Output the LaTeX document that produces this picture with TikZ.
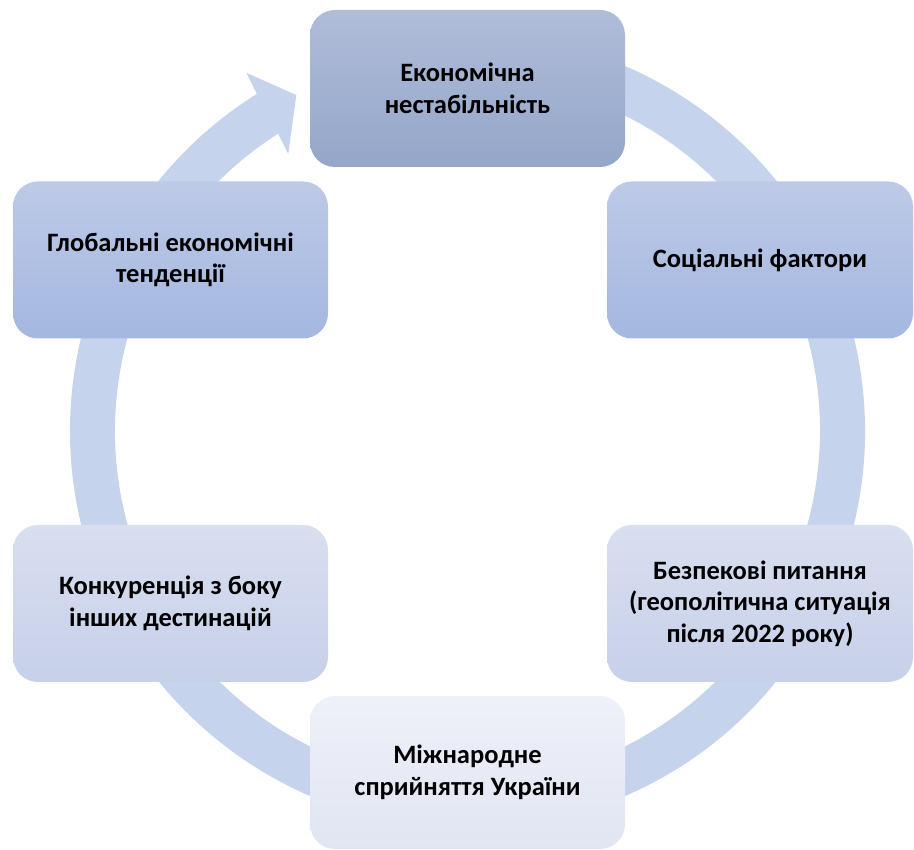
\documentclass[tikz,border=0pt]{standalone}
\usepackage{fontspec}
\setmainfont{Carlito}
\definecolor{ringc}{HTML}{C5D3EC}
\definecolor{topA}{HTML}{B0BDD9}
\definecolor{topB}{HTML}{94A6C9}
\definecolor{ruA}{HTML}{BDCAE7}
\definecolor{ruB}{HTML}{A4B7E0}
\definecolor{rlA}{HTML}{D9DFEF}
\definecolor{rlB}{HTML}{C7D0EA}
\definecolor{btA}{HTML}{EEF1F9}
\definecolor{btB}{HTML}{E1E5F2}
\begin{document}
\begin{tikzpicture}[x=1pt,y=1pt,
  cbox/.style={rounded corners=25pt, minimum width=315pt, minimum height=157pt,
    align=center, inner sep=0pt, font=\fontsize{26.5}{31.5}\selectfont\bfseries, text=black}]
\useasboundingbox (0,0) rectangle (914,850);
\coordinate (C) at (467.5,419);
% ring with arrow head
\begin{scope}[shift={(C)}]
\fill[ringc] (100:397.5pt) arc[start angle=100, end angle=-238, radius=397.5pt]
  -- (-238.3:421pt) -- (-243:377pt) -- (-237.1:330pt) -- (-237.5:352.5pt)
  arc[start angle=-237.5, end angle=100, radius=352.5pt] -- cycle;
\end{scope}
% boxes
\node[cbox, top color=topA, bottom color=topB] (eco) at (467.5,761.5) {Економічна\\нестабільність};
\node[cbox, minimum width=306pt, top color=ruA, bottom color=ruB] (soc) at (760,590) {Соціальні фактори};
\node[cbox, minimum width=306pt, top color=rlA, bottom color=rlB] (bez) at (760,246.5) {Безпекові питання\\(геополітична ситуація\\після 2022 року)};
\node[cbox, minimum height=153pt, top color=btA, bottom color=btB] (mizh) at (467.5,77.5) {Міжнародне\\сприйняття України};
\node[cbox, top color=rlA, bottom color=rlB] (kon) at (170.5,246.5) {Конкуренція з боку\\інших дестинацій};
\node[cbox, top color=ruA, bottom color=ruB] (glob) at (170.5,590) {Глобальні економічні\\тенденції};
\end{tikzpicture}
\end{document}
